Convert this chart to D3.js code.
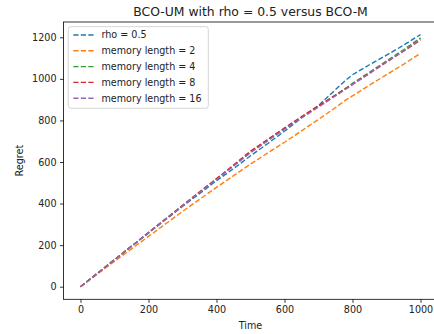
<!DOCTYPE html>
<html>
<head>
<meta charset="utf-8">
<script src="https://cdn.jsdelivr.net/npm/d3@7"></script>
<style>
  body { margin: 0; background: #fff; }
  text { font-family: "DejaVu Sans", sans-serif; fill: #222; }
</style>
</head>
<body>
<div id="chart"></div>
<script>
// time steps where values were read
var timeSteps = [0, 50, 100, 150, 200, 250, 300, 350, 400, 450, 500, 550, 600, 650, 700, 750, 780, 800, 850, 900, 950, 1000];

var rhoHalf = [0, 65, 130, 194, 258, 322, 386, 448, 510, 568, 630, 688, 748, 812, 872, 948, 993, 1020, 1068, 1114, 1162, 1213];
var mem2    = [0, 61, 122, 182, 242, 302, 362, 420, 478, 534, 590, 643, 695, 750, 805, 862, 898, 918, 970, 1020, 1070, 1123];
var mem4    = [0, 65, 130, 195, 260, 325, 390, 455, 518, 582, 648, 705, 760, 815, 868, 922, 955, 978, 1032, 1086, 1140, 1197];
var mem8    = [0, 65, 130, 195, 261, 326, 391, 456, 520, 585, 652, 708, 764, 818, 870, 922, 953, 974, 1027, 1080, 1133, 1186];
var mem16   = [0, 65, 130, 195, 260, 325, 389, 453, 516, 580, 645, 701, 757, 812, 864, 918, 950, 972, 1026, 1081, 1135, 1191];

var seriesNames = ["rho = 0.5", "memory length = 2", "memory length = 4", "memory length = 8", "memory length = 16"];
var seriesValues = [rhoHalf, mem2, mem4, mem8, mem16];
var seriesColors = ["#1f77b4", "#ff7f0e", "#2ca02c", "#d62728", "#9467bd"];

var xTicks = [0, 200, 400, 600, 800, 1000];
var yTicks = [0, 200, 400, 600, 800, 1000, 1200];

var width = 434, height = 334;
var axLeft = 63.5, axRight = 437.5, axTop = 22, axBottom = 299.3;

var svg = d3.select("#chart").append("svg")
    .attr("width", width)
    .attr("height", height);

// matplotlib style 5% margins
var xScale = d3.scaleLinear().domain([-50, 1050]).range([axLeft, axRight]);
var yMax = d3.max(seriesValues, function(s) { return d3.max(s); });
var yScale = d3.scaleLinear().domain([-0.05 * yMax, 1.05 * yMax]).range([axBottom, axTop]);

var xAxis = svg.append("g")
    .attr("transform", "translate(0," + axBottom + ")")
    .call(d3.axisBottom(xScale).tickValues(xTicks).tickSize(3.5).tickPadding(3.5).tickFormat(d3.format("d")));
var yAxis = svg.append("g")
    .attr("transform", "translate(" + axLeft + ",0)")
    .call(d3.axisLeft(yScale).tickValues(yTicks).tickSize(3.5).tickPadding(3.5).tickFormat(d3.format("d")));

[xAxis, yAxis].forEach(function(ax) {
    ax.select(".domain").remove();
    ax.selectAll("line").attr("stroke", "#000").attr("stroke-width", 0.8);
    ax.selectAll("text").style("font-size", "9.6px").attr("fill", "#222");
});

// lines
var line = d3.line()
    .x(function(d, i) { return xScale(timeSteps[i]); })
    .y(function(d) { return yScale(d); });

svg.append("defs").append("clipPath").attr("id", "clip")
    .append("rect").attr("x", axLeft).attr("y", axTop).attr("width", axRight - axLeft).attr("height", axBottom - axTop);

var plot = svg.append("g").attr("clip-path", "url(#clip)");
seriesValues.forEach(function(vals, k) {
    plot.append("path")
        .datum(vals)
        .attr("d", line)
        .attr("fill", "none")
        .attr("stroke", seriesColors[k])
        .attr("stroke-width", 1.4)
        .attr("stroke-dasharray", "5.2,2.3");
});

// spines
svg.append("rect")
    .attr("x", axLeft).attr("y", axTop)
    .attr("width", axRight - axLeft).attr("height", axBottom - axTop)
    .attr("fill", "none").attr("stroke", "#000").attr("stroke-width", 0.8);

// title and axis labels
svg.append("text")
    .attr("x", (axLeft + axRight) / 2).attr("y", 15.5)
    .attr("text-anchor", "middle")
    .style("font-size", "12.4px")
    .text("BCO-UM with rho = 0.5 versus BCO-M");

svg.append("text")
    .attr("x", (axLeft + axRight) / 2).attr("y", 329)
    .attr("text-anchor", "middle")
    .style("font-size", "9.6px")
    .text("Time");

svg.append("text")
    .attr("transform", "translate(23," + (axTop + axBottom) / 2 + ") rotate(-90)")
    .attr("text-anchor", "middle")
    .style("font-size", "9.6px")
    .text("Regret");

// LEGEND
var legend = svg.append("g").attr("class", "legend");
legend.append("rect")
    .attr("x", 68.3).attr("y", 26.7)
    .attr("width", 140).attr("height", 81.6)
    .attr("rx", 2.5)
    .attr("fill", "#fff").attr("fill-opacity", 0.8)
    .attr("stroke", "#ccc").attr("stroke-width", 0.8);

seriesNames.forEach(function(name, k) {
    var ligne = legend.append("g").attr("transform", "translate(0," + (35 + k * 15.8) + ")");
    ligne.append("line")
        .attr("x1", 73.3).attr("x2", 93.5)
        .attr("stroke", seriesColors[k])
        .attr("stroke-width", 1.4)
        .attr("stroke-dasharray", "5.2,2.3");
    ligne.append("text")
        .attr("x", 101.5)
        .attr("dy", "0.35em")
        .style("font-size", "9.6px")
        .text(name);
});
</script>
</body>
</html>
